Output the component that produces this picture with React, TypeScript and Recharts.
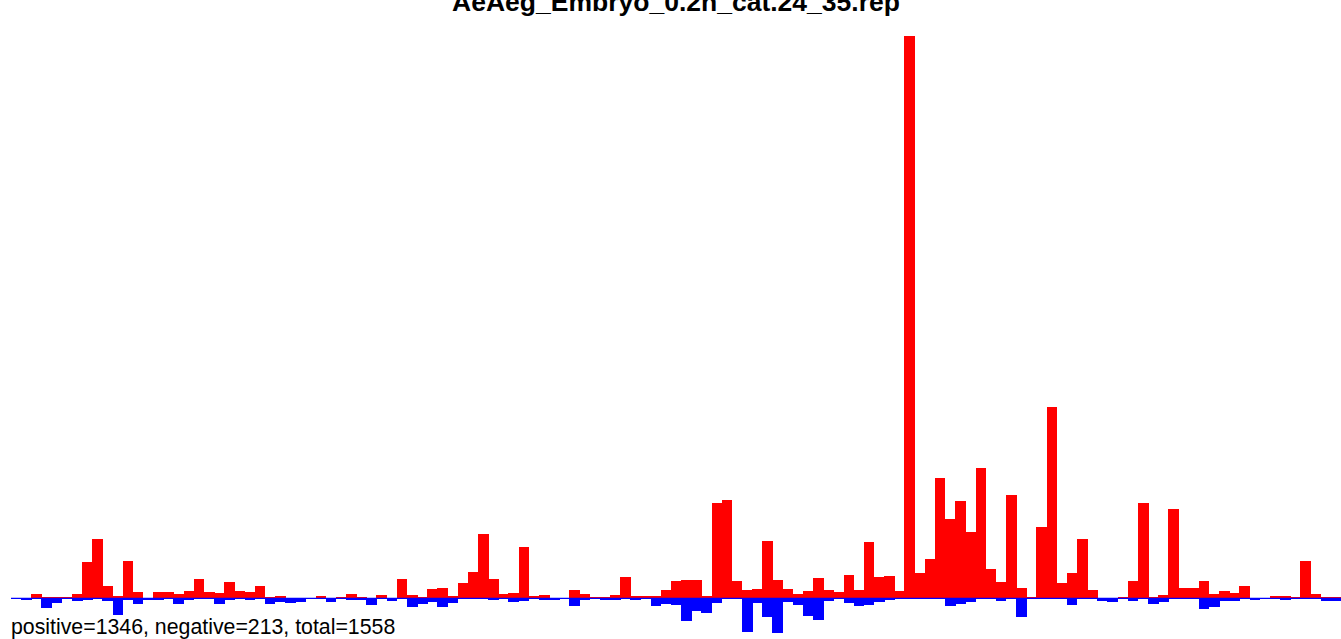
import { BarChart, Bar, XAxis, YAxis, ReferenceLine } from 'recharts'

const TITLE = 'AeAeg_Embryo_0.2h_cat.24_35.rep'
const SUMMARY = 'positive=1346, negative=213, total=1558'

// one entry per position (131 positions)
const positive = [
  0, 0.3, 1.8, 0.7, 0.7, 0.7, 1.8, 15.8, 25.9, 5.3,
  0.9, 16.2, 2.6, 0.2, 2.6, 2.6, 1.8, 3.1, 8.3, 2.6,
  2.2, 7.0, 3.1, 2.6, 5.3, 0.4, 0.9, 0, 0, 0,
  0.9, 0, 0.4, 1.8, 0.4, 0, 1.3, 0, 8.3, 1.3,
  0.4, 3.9, 4.4, 0.9, 6.6, 11.4, 28.1, 8.3, 1.8, 2.2,
  22.4, 0.9, 1.3, 0, 0, 3.5, 1.8, 0.4, 0.4, 1.3,
  9.2, 0.9, 0.9, 0.9, 3.5, 7.5, 7.9, 7.9, 0.9, 41.7,
  43.0, 7.5, 3.5, 3.9, 25.0, 7.9, 3.9, 1.8, 3.1, 8.8,
  3.5, 2.6, 10.1, 3.5, 24.6, 9.2, 9.6, 3.1, 246.5, 11.0,
  17.1, 52.6, 34.6, 42.5, 28.9, 57.0, 12.7, 7.0, 45.2, 4.4,
  0.4, 31.1, 83.8, 6.6, 11.0, 25.9, 3.5, 0, 0, 0.4,
  7.5, 41.7, 0.4, 1.3, 39.0, 4.4, 4.4, 7.5, 1.8, 3.1,
  2.2, 5.3, 0, 0, 0.9, 0.9, 0.4, 16.2, 1.8, 0.4,
  0.4,
]

const negative = [
  0, -0.9, 0, -4.3, -2.1, 0, -1.3, -0.9, 0, -1.3,
  -7.5, -0.9, -2.6, -0.9, -0.9, 0, -2.6, -0.9, 0, 0,
  -2.6, -0.9, 0, -0.9, 0, -2.5, -1.8, -2.2, -1.8, 0,
  0, -1.8, 0, -0.7, -0.9, -2.9, 0, -1.2, 0, -3.8,
  -2.6, -1.6, -3.6, -1.9, 0, 0, 0, -0.7, 0, -1.4,
  -1.0, 0, -0.7, -0.9, 0, -3.2, -0.9, 0, -0.9, -0.9,
  0, -0.9, 0, -3.4, -2.5, -2.9, -10.0, -5.6, -6.4, -2.1,
  0, 0, -14.8, -2.1, -8.2, -15.2, -1.6, -2.9, -7.8, -9.5,
  -1.2, 0, -2.1, -3.4, -2.9, -1.6, -0.7, 0, 0, 0,
  0, 0, -3.4, -2.5, -1.6, 0, 0, -1.2, 0, -8.2,
  0, 0, 0, 0, -2.9, 0, 0, -1.2, -1.6, 0,
  -1.2, 0, -2.5, -1.6, 0, 0, 0, -4.7, -3.8, -1.2,
  -1.2, 0, -0.7, 0, 0, -0.7, 0, 0, 0, -1.2,
  -1.2,
]

const positions = positive.map((_, i) => i + 1)

const data = positions.map((p, i) => ({ pos: p, up: positive[i], down: negative[i] }))

const yMax = Math.max(...positive)
const yMin = Math.min(...negative)

const FONT = '"Liberation Sans", Arial, sans-serif'

// recharts floors the bar width, so widen each rect a bit to close the seams
function FlushBar(props: any) {
  const { x, y, width, height, fill } = props
  if (!height) return null
  const top = height < 0 ? y + height : y
  return (
    <rect
      x={x}
      y={top}
      width={width + 0.6}
      height={Math.abs(height)}
      fill={fill}
      shapeRendering="crispEdges"
    />
  )
}

export default function App() {
  return (
    <div style={{ position: 'absolute', left: 0, top: 0, width: 1341, height: 639, background: '#fff' }}>
      <BarChart
        width={1341}
        height={639}
        data={data}
        stackOffset="sign"
        barCategoryGap={0}
        barGap={0}
        margin={{ top: 36, right: 0, bottom: 6, left: 11 }}
      >
        <XAxis dataKey="pos" hide />
        <YAxis hide domain={[yMin, yMax]} allowDataOverflow />
        <Bar dataKey="up" stackId="s" fill="#ff0000" shape={FlushBar} isAnimationActive={false} />
        <Bar dataKey="down" stackId="s" fill="#0000ff" shape={FlushBar} isAnimationActive={false} />
        <ReferenceLine y={0} stroke="#0000ff" strokeWidth={1.2} ifOverflow="extendDomain" />
      </BarChart>
      <svg
        width={1341}
        height={639}
        style={{ position: 'absolute', left: 0, top: 0, pointerEvents: 'none' }}
      >
        <text x={676} y={11} textAnchor="middle" fontFamily={FONT} fontWeight="bold" fontSize={26.5} fill="#000">
          {TITLE}
        </text>
        <text x={11} y={634} fontFamily={FONT} fontSize={21.3} fill="#000">
          {SUMMARY}
        </text>
      </svg>
    </div>
  )
}
